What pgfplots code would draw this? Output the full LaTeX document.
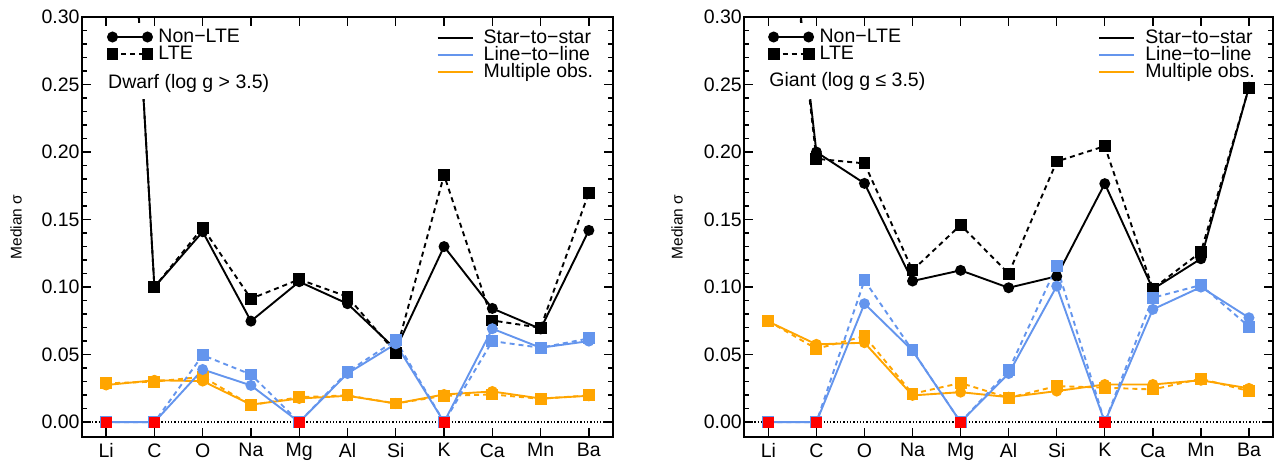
\documentclass[border=0pt]{standalone}
\usepackage{fontspec}
\setmainfont{Liberation Sans}
\usepackage{pgfplots}
\usepackage{pgfplotstable}
\pgfplotsset{compat=1.18}
\definecolor{cblue}{RGB}{100,149,237}
\definecolor{corange}{RGB}{255,165,0}

% x: 0 Li,1 C,2 O,3 Na,4 Mg,5 Al,6 Si,7 K,8 Ca,9 Mn,10 Ba
\pgfplotstableread{
x  sN     sL     lN     lL     mN     mL
0  0.72   0.72   0      0      0.0275 0.0287
1  0.100  0.100  0      0      0.031  0.030
2  0.141  0.144  0.039  0.0496 0.0304 0.0336
3  0.0748 0.0914 0.0272 0.0353 0.013  0.0126
4  0.104  0.1057 0      0      0.0175 0.0185
5  0.0877 0.0929 0.036  0.0373 0.0195 0.0198
6  0.054  0.0514 0.058  0.0607 0.0138 0.0138
7  0.130  0.183  0      0      0.0205 0.0195
8  0.0842 0.0753 0.0692 0.060  0.0227 0.0205
9  0.069  0.0699 0.0551 0.0551 0.0175 0.0173
10 0.142  0.170  0.060  0.062  0.0195 0.0198
}\dwarf

\pgfplotstableread{
x  sN     sL     lN     lL     mN     mL
0  0.51   0.51   0      0      0.0745 0.0748
1  0.200  0.195  0      0      0.0576 0.0543
2  0.1768 0.1916 0.0877 0.105  0.0588 0.0637
3  0.1045 0.1124 0.053  0.0531 0.0198 0.021
4  0.1124 0.146  0      0      0.0222 0.029
5  0.0995 0.110  0.036  0.0383 0.0185 0.018
6  0.108  0.193  0.1007 0.1156 0.023  0.0267
7  0.1766 0.2044 0      0      0.0279 0.0255
8  0.0985 0.0988 0.0835 0.0921 0.0279 0.0242
9  0.121  0.126  0.100  0.1015 0.031  0.0321
10 0.248  0.2477 0.0773 0.0707 0.025  0.023
}\giant

\pgfplotsset{
 panel/.style={
  scale only axis, height=420pt, anchor=south west,
  xmin=-0.5, xmax=10.5, ymin=-0.011, ymax=0.30,
  xtick={0,1,...,10}, xticklabels={Li,C,O,Na,Mg,Al,Si,K,Ca,Mn,Ba},
  ytick={0,0.05,0.10,0.15,0.20,0.25,0.30},
  minor y tick num=4,
  yticklabel style={/pgf/number format/fixed,/pgf/number format/fixed zerofill,/pgf/number format/precision=2, xshift=1pt},
  /pgf/number format/assume math mode=true,
  xtick pos=both, ytick pos=both, tick align=inside,
  major tick length=9pt, minor tick length=5pt,
  every tick/.style={black, line width=1.3pt},
  axis line style={line width=2pt},
  tick label style={font=\fontsize{19.5}{20}\selectfont},
  xticklabel style={yshift=-3pt},
  ylabel={Median σ},
  axis on top,
 },
 hid/.style={scale only axis, height=420pt, anchor=south west,
  xmin=-0.5, xmax=10.5, ymin=-0.011, ymax=0.30, hide axis},
 zl/.style={black, line width=1.3pt, dash pattern=on 1.3pt off 2pt},
 pN/.style={#1, line width=1.9pt, mark=*, mark size=4.5pt},
 pL/.style={#1, line width=1.9pt, dash pattern=on 5pt off 4pt, mark=square*, mark size=5pt, mark options={solid}},
 rz/.style={only marks, mark=square*, mark size=5.1pt, red},
 legA/.style={legend style={draw=none, fill=none, inner sep=0pt, outer sep=0pt,
   font=\fontsize{19.5}{17}\selectfont, nodes={inner sep=0pt, text height=13.5pt, text depth=3.5pt},
   row sep=0pt, column sep=6pt, anchor=north west}, legend cell align=left},
 legB/.style={legend style={draw=none, fill=none, inner sep=0pt, outer sep=0pt,
   font=\fontsize{19.5}{17}\selectfont, nodes={inner sep=0pt, text height=13.5pt, text depth=3.5pt},
   row sep=0pt, column sep=10pt, anchor=north west}, legend cell align=left},
}

\begin{document}
\begin{tikzpicture}[x=1pt,y=1pt]
\useasboundingbox (0,0) rectangle (1274,464);

% ---------------- Dwarf panel ----------------
\begin{axis}[panel, at={(82pt,27pt)}, width=531pt,
  every axis y label/.style={at={(axis description cs:-0.124,0.5)}, rotate=90, anchor=center, font=\fontsize{15.5}{16}\selectfont}]
\addplot[zl] coordinates {(-0.5,0) (10.5,0)};
\addplot[pN=black] table[x=x,y=sN]{\dwarf};
\addplot[pL=black] table[x=x,y=sL]{\dwarf};
\addplot[pN=corange] table[x=x,y=mN]{\dwarf};
\addplot[pL=corange] table[x=x,y=mL]{\dwarf};
\addplot[pN=cblue] table[x=x,y=lN]{\dwarf};
\addplot[pL=cblue] table[x=x,y=lL]{\dwarf};
\addplot[rz] coordinates {(0,0) (1,0) (4,0) (7,0)};
\fill[white] (axis description cs:0.004,0.985) rectangle (axis description cs:0.40,0.805);
\node[anchor=base west, inner sep=0pt, font=\fontsize{19.5}{20}\selectfont] at (axis description cs:0.049,0.829) {Dwarf (log g > 3.5)};
\end{axis}
\begin{axis}[hid, at={(82pt,27pt)}, width=531pt, legA,
  legend image code/.code={\draw[#1] plot coordinates {(0pt,0pt) (35pt,0pt)};},
  legend style={at={(axis description cs:0.048,0.9726)}}]
\addlegendimage{black, line width=1.9pt, mark=*, mark size=4.5pt}
\addlegendentry{Non−LTE}
\addlegendimage{black, line width=1.9pt, dash pattern=on 5pt off 4pt, mark=square*, mark size=5pt, mark options={solid}}
\addlegendentry{LTE}
\end{axis}
\begin{axis}[hid, at={(82pt,27pt)}, width=531pt, legB,
  legend image code/.code={\draw[#1] (0pt,0pt) -- (35pt,0pt);},
  legend style={at={(axis description cs:0.668,0.970)}}]
\addlegendimage{black, line width=2pt}
\addlegendentry{Star−to−star}
\addlegendimage{cblue, line width=2pt}
\addlegendentry{Line−to−line}
\addlegendimage{corange, line width=2pt}
\addlegendentry{Multiple obs.}
\end{axis}

% ---------------- Giant panel ----------------
\begin{axis}[panel, at={(744.3pt,27pt)}, width=528.7pt,
  every axis y label/.style={at={(axis description cs:-0.127,0.5)}, rotate=90, anchor=center, font=\fontsize{15.5}{16}\selectfont}]
\addplot[zl] coordinates {(-0.5,0) (10.5,0)};
\addplot[pN=black] table[x=x,y=sN]{\giant};
\addplot[pL=black] table[x=x,y=sL]{\giant};
\addplot[pN=corange] table[x=x,y=mN]{\giant};
\addplot[pL=corange] table[x=x,y=mL]{\giant};
\addplot[pN=cblue] table[x=x,y=lN]{\giant};
\addplot[pL=cblue] table[x=x,y=lL]{\giant};
\addplot[rz] coordinates {(0,0) (1,0) (4,0) (7,0)};
\fill[white] (axis description cs:0.004,0.985) rectangle (axis description cs:0.37,0.805);
\node[anchor=base west, inner sep=0pt, font=\fontsize{19.5}{20}\selectfont] at (axis description cs:0.047,0.834) {Giant (log g ≤ 3.5)};
\end{axis}
\begin{axis}[hid, at={(744.3pt,27pt)}, width=528.7pt, legA,
  legend image code/.code={\draw[#1] plot coordinates {(0pt,0pt) (35pt,0pt)};},
  legend style={at={(axis description cs:0.046,0.9726)}}]
\addlegendimage{black, line width=1.9pt, mark=*, mark size=4.5pt}
\addlegendentry{Non−LTE}
\addlegendimage{black, line width=1.9pt, dash pattern=on 5pt off 4pt, mark=square*, mark size=5pt, mark options={solid}}
\addlegendentry{LTE}
\end{axis}
\begin{axis}[hid, at={(744.3pt,27pt)}, width=528.7pt, legB,
  legend image code/.code={\draw[#1] (0pt,0pt) -- (35pt,0pt);},
  legend style={at={(axis description cs:0.6696,0.970)}}]
\addlegendimage{black, line width=2pt}
\addlegendentry{Star−to−star}
\addlegendimage{cblue, line width=2pt}
\addlegendentry{Line−to−line}
\addlegendimage{corange, line width=2pt}
\addlegendentry{Multiple obs.}
\end{axis}
\end{tikzpicture}
\end{document}
